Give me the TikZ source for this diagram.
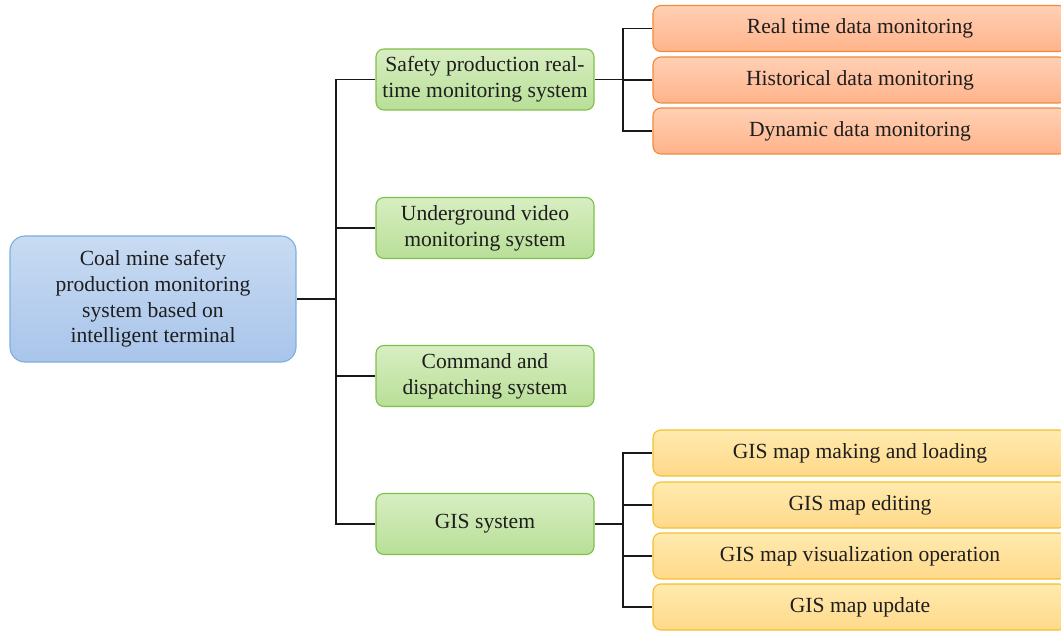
\documentclass[tikz,border=0pt]{standalone}
\usepackage{fontspec}
\setmainfont{Liberation Serif}
\usetikzlibrary{positioning}
\definecolor{bluetop}{HTML}{C8DBF2}
\definecolor{bluebot}{HTML}{A9C5EB}
\definecolor{blueedge}{HTML}{7DAEE0}
\definecolor{greentop}{HTML}{D8EEC2}
\definecolor{greenbot}{HTML}{B8DF97}
\definecolor{greenedge}{HTML}{7FBF4A}
\definecolor{orangetop}{HTML}{FFD0B4}
\definecolor{orangebot}{HTML}{FFB38A}
\definecolor{orangeedge}{HTML}{F28A3A}
\definecolor{yellowtop}{HTML}{FFEAAE}
\definecolor{yellowbot}{HTML}{FFD98A}
\definecolor{yellowedge}{HTML}{F3C030}
\definecolor{inkcol}{HTML}{1E1E1E}
\tikzset{
  x=1pt, y=1pt,
  box/.style={draw, line width=1.1pt, align=center, text=inkcol,
    font=\fontsize{21.6}{25.7}\selectfont, inner sep=0pt},
  rootbox/.style={box, rounded corners=15pt, minimum width=286pt, minimum height=126pt,
    top color=bluetop, bottom color=bluebot, draw=blueedge},
  midbox/.style={box, rounded corners=8pt, minimum width=218pt, minimum height=61pt,
    top color=greentop, bottom color=greenbot, draw=greenedge},
  leafo/.style={box, rounded corners=8pt, minimum width=414pt, minimum height=46pt,
    top color=orangetop, bottom color=orangebot, draw=orangeedge},
  leafy/.style={box, rounded corners=8pt, minimum width=414pt, minimum height=46pt,
    top color=yellowtop, bottom color=yellowbot, draw=yellowedge},
  link/.style={draw=black!90, line width=1.1pt}
}
\begin{document}
\begin{tikzpicture}
\path[use as bounding box, clip] (0,0) rectangle (1061,-631);
\fill[white] (0,0) rectangle (1061,-631);

% root
\node[rootbox] (root) at (153,-299) {Coal mine safety\\production monitoring\\system based on\\intelligent terminal};

% second level
\node[midbox] (s1) at (485,-79.5) {Safety production real-\\time monitoring system};
\node[midbox] (s2) at (485,-228) {Underground video\\monitoring system};
\node[midbox] (s3) at (485,-376) {Command and\\dispatching system};
\node[midbox] (s4) at (485,-524) {GIS system};

% leaves of the real-time monitoring branch
\node[leafo] (o1) at (860,-28.5) {Real time data monitoring};
\node[leafo] (o2) at (860,-80) {Historical data monitoring};
\node[leafo] (o3) at (860,-131) {Dynamic data monitoring};

% leaves of the GIS branch
\node[leafy] (y1) at (860,-453) {GIS map making and loading};
\node[leafy] (y2) at (860,-505) {GIS map editing};
\node[leafy] (y3) at (860,-556) {GIS map visualization operation};
\node[leafy] (y4) at (860,-607) {GIS map update};

% bus coordinates
\coordinate (b0) at (336,-299);
\coordinate (b1) at (623,-79.5);
\coordinate (b4) at (623,-524);

% root to second level
\draw[link] (root.east) -- (b0);
\foreach \n in {s1,s2,s3,s4}
  \draw[link] (b0) |- (\n.west);

% second level to leaves
\draw[link] (s1.east) -- (b1);
\foreach \n in {o1,o2,o3}
  \draw[link] (b1) |- (\n.west);
\draw[link] (s4.east) -- (b4);
\foreach \n in {y1,y2,y3,y4}
  \draw[link] (b4) |- (\n.west);
\end{tikzpicture}
\end{document}
